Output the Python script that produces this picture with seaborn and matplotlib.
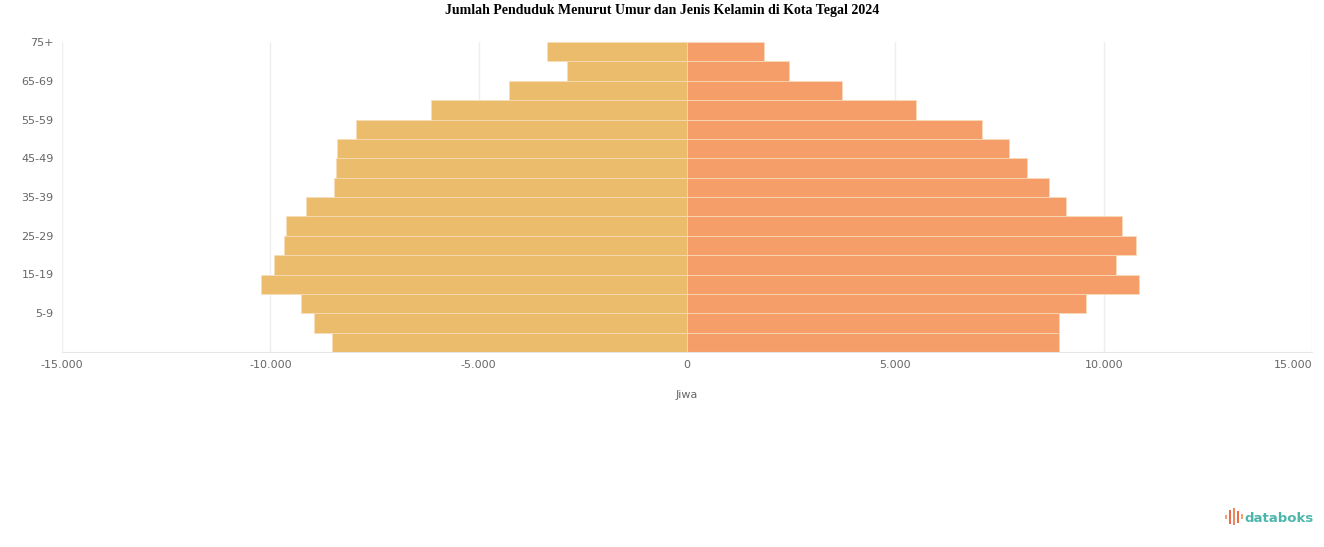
import numpy as np
import pandas as pd
import matplotlib.pyplot as plt
import seaborn as sns
from matplotlib.patches import Rectangle

# age groups, top to bottom
age_groups = ["75+", "70-74", "65-69", "60-64", "55-59", "50-54", "45-49", "40-44",
              "35-39", "30-34", "25-29", "20-24", "15-19", "10-14", "5-9", "0-4"]
laki_laki = [3360, 2880, 4270, 6140, 7940, 8390, 8420, 8470,
             9140, 9620, 9660, 9900, 10220, 9260, 8940, 8510]
perempuan = [1850, 2450, 3720, 5490, 7070, 7720, 8150, 8680,
             9090, 10430, 10770, 10290, 10840, 9570, 8920, 8920]
x_ticks = [-15000, -10000, -5000, 0, 5000, 10000, 15000]

df = pd.DataFrame({
    "umur": age_groups * 2,
    "jiwa": [-v for v in laki_laki] + perempuan,
    "jenis": ["Laki-laki"] * len(age_groups) + ["Perempuan"] * len(age_groups),
})

W, H = 1324, 547
sns.set_style("white")
fig = plt.figure(figsize=(W / 100, H / 100), dpi=100)
ax = fig.add_axes([62 / W, 1 - 352 / H, 1250 / W, 310 / H])

sns.barplot(
    data=df,
    y="umur",
    x="jiwa",
    hue="jenis",
    order=age_groups,
    palette={"Laki-laki": "#EBBC6B", "Perempuan": "#F59E69"},
    saturation=1,
    orient="h",
    width=1.0,
    dodge=False,
    edgecolor="#F8DDBB",
    linewidth=0.5,
    legend=False,
    ax=ax,
)

ax.set_xlim(-15000, 15000)
ax.set_ylim(len(age_groups) - 0.5, -0.5)
ax.set_xticks(x_ticks)
ax.set_xticklabels([f"{v:,}".replace(",", ".") for v in x_ticks], fontsize=8, color="#666666")
ax.get_xticklabels()[-1].set_horizontalalignment("right")

# labels sit on the upper edge of every other bar
tick_idx = list(range(0, len(age_groups), 2))
ax.set_yticks([i - 0.5 for i in tick_idx])
ax.set_yticklabels([age_groups[i] for i in tick_idx], fontsize=8, color="#666666")
ax.tick_params(axis="both", length=0, pad=6)

ax.grid(axis="x", color="#eeeeee", linewidth=1)
ax.set_axisbelow(True)
for side in ["top", "right", "left"]:
    ax.spines[side].set_visible(False)
ax.spines["bottom"].set_color("#e6e6e6")

ax.set_ylabel("")
ax.set_xlabel("Jiwa", fontsize=8, color="#666666", labelpad=14)

fig.text(0.5, 1 - 4 / H, "Jumlah Penduduk Menurut Umur dan Jenis Kelamin di Kota Tegal 2024",
         ha="center", va="top", fontsize=10, fontweight="bold", family="Liberation Serif",
         color="black")

# databoks logo
icon = [(1225, 515, 4, "#F4A06A"), (1229, 510, 14, "#EE6A4E"), (1233, 508, 17, "#F08A5A"),
        (1237, 511, 12, "#EE6A4E"), (1241, 514, 5, "#F4A06A")]
for px, py, ph, c in icon:
    fig.add_artist(Rectangle((px / W, 1 - (py + ph) / H), 2 / W, ph / H,
                             transform=fig.transFigure, color=c, linewidth=0))
fig.text(1244 / W, 1 - 518 / H, "databoks", ha="left", va="center",
         fontsize=9.5, fontweight="bold", color="#4DB6AC", family="DejaVu Sans")

fig.savefig("out.png", dpi=100)
